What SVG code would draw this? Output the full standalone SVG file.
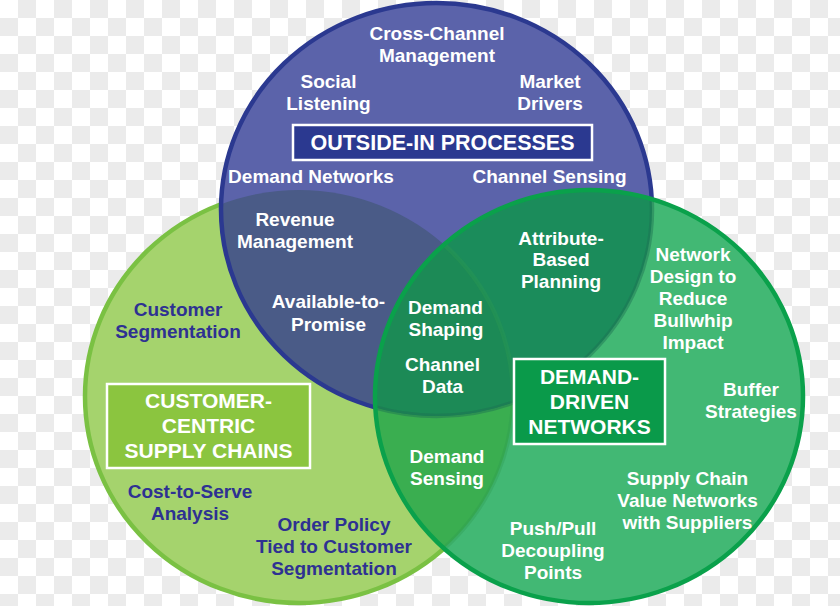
<svg xmlns="http://www.w3.org/2000/svg" width="840" height="606" viewBox="0 0 840 606">
<defs>
<pattern id="chk" width="36" height="36" patternUnits="userSpaceOnUse">
<rect width="36" height="36" fill="#ffffff"/>
<rect x="18" y="0" width="18" height="18" fill="#ebebeb"/>
<rect x="0" y="18" width="18" height="18" fill="#ebebeb"/>
</pattern>
<clipPath id="cL"><ellipse cx="299" cy="396.5" rx="214" ry="206.5"/></clipPath>
<clipPath id="cB"><ellipse cx="436.5" cy="209.5" rx="215.5" ry="206.5"/></clipPath>
<clipPath id="cR"><ellipse cx="589" cy="396.5" rx="214" ry="206.5"/></clipPath>
<style>
.t { font-family: "Liberation Sans", Arial, sans-serif; font-weight: bold; font-size: 19px; text-anchor: middle; fill: #ffffff; }
.nv { fill: #2e3192; }
.ttl { font-size: 21px; }
.box { stroke: #ffffff; stroke-width: 2.5; }
.rim { fill: none; stroke-width: 4.5; }
</style>
</defs>
<rect width="840" height="606" fill="url(#chk)"/>

<g id="circle-customer-centric">
<ellipse cx="299" cy="396.5" rx="214" ry="206.5" fill="#a5d36d" stroke="#7ac143" stroke-width="4.5"/>
</g>

<g id="circle-outside-in">
<ellipse cx="436.5" cy="209.5" rx="215.5" ry="206.5" fill="#5b63aa"/>
<ellipse cx="436.5" cy="209.5" rx="215.5" ry="206.5" fill="#4a5b87" clip-path="url(#cL)"/>
<ellipse class="rim" cx="436.5" cy="209.5" rx="215.5" ry="206.5" stroke="#2b3990"/>
</g>

<g id="circle-demand-driven">
<ellipse cx="589" cy="396.5" rx="214" ry="206.5" fill="#42b874"/>
<ellipse cx="589" cy="396.5" rx="214" ry="206.5" fill="#3aae50" clip-path="url(#cL)"/>
<ellipse cx="589" cy="396.5" rx="214" ry="206.5" fill="#1b8c5b" clip-path="url(#cB)"/>
<g clip-path="url(#cB)">
<ellipse cx="589" cy="396.5" rx="214" ry="206.5" fill="#1c8a56" clip-path="url(#cL)"/>
</g>
<g clip-path="url(#cR)">
<ellipse class="rim" cx="436.5" cy="209.5" rx="215.5" ry="206.5" stroke="#1d6e52" opacity="0.45"/>
<ellipse class="rim" cx="299" cy="396.5" rx="214" ry="206.5" stroke="#2f9a50" opacity="0.35"/>
</g>
<ellipse class="rim" cx="589" cy="396.5" rx="214" ry="206.5" stroke="#0aa14b"/>
</g>

<g id="title-outside-in">
<rect class="box" x="293" y="125" width="299" height="35" fill="#2b3990"/>
<text class="t" x="442.5" y="150" style="font-size:21.5px">OUTSIDE-IN PROCESSES</text>
</g>
<g id="title-customer-centric">
<rect class="box" x="107" y="384" width="203" height="84" fill="#8bc53f"/>
<text class="t ttl" x="208.5" y="408">CUSTOMER-</text>
<text class="t ttl" x="208.5" y="433">CENTRIC</text>
<text class="t ttl" x="208.5" y="458">SUPPLY CHAINS</text>
</g>
<g id="title-demand-driven">
<rect class="box" x="514" y="359" width="151" height="85" fill="#0a9a4a"/>
<text class="t ttl" x="589.5" y="384">DEMAND-</text>
<text class="t ttl" x="589.5" y="409">DRIVEN</text>
<text class="t ttl" x="589.5" y="434">NETWORKS</text>
</g>

<g id="cross-channel"><text class="t" x="437" y="40">Cross-Channel</text><text class="t" x="437" y="62">Management</text></g>
<g id="social-listening"><text class="t" x="328.5" y="88">Social</text><text class="t" x="328.5" y="110">Listening</text></g>
<g id="market-drivers"><text class="t" x="550" y="88">Market</text><text class="t" x="550" y="110">Drivers</text></g>
<g id="demand-networks"><text class="t" x="311" y="183">Demand Networks</text></g>
<g id="channel-sensing"><text class="t" x="549.5" y="183">Channel Sensing</text></g>
<g id="revenue-management"><text class="t" x="295" y="226">Revenue</text><text class="t" x="295" y="248">Management</text></g>
<g id="available-to-promise"><text class="t" x="328.5" y="308">Available-to-</text><text class="t" x="328.5" y="331">Promise</text></g>
<g id="attribute-based"><text class="t" x="561" y="245">Attribute-</text><text class="t" x="561" y="266">Based</text><text class="t" x="561" y="288">Planning</text></g>
<g id="demand-shaping"><text class="t" x="445.5" y="314">Demand</text><text class="t" x="446" y="336">Shaping</text></g>
<g id="channel-data"><text class="t" x="442.5" y="371">Channel</text><text class="t" x="442.5" y="393">Data</text></g>
<g id="network-design"><text class="t" x="693" y="261">Network</text><text class="t" x="693" y="283">Design to</text><text class="t" x="693" y="305">Reduce</text><text class="t" x="693" y="327">Bullwhip</text><text class="t" x="693" y="349">Impact</text></g>
<g id="buffer-strategies"><text class="t" x="751" y="396">Buffer</text><text class="t" x="751" y="418">Strategies</text></g>
<g id="demand-sensing"><text class="t" x="447" y="463">Demand</text><text class="t" x="447" y="485">Sensing</text></g>
<g id="supply-chain-value"><text class="t" x="687.5" y="485">Supply Chain</text><text class="t" x="687.5" y="507">Value Networks</text><text class="t" x="687.5" y="529">with Suppliers</text></g>
<g id="push-pull"><text class="t" x="553" y="535">Push/Pull</text><text class="t" x="553" y="557">Decoupling</text><text class="t" x="553" y="579">Points</text></g>
<g id="customer-segmentation"><text class="t nv" x="178" y="316">Customer</text><text class="t nv" x="178" y="338">Segmentation</text></g>
<g id="cost-to-serve"><text class="t nv" x="190" y="498">Cost-to-Serve</text><text class="t nv" x="190" y="520">Analysis</text></g>
<g id="order-policy"><text class="t nv" x="334" y="531">Order Policy</text><text class="t nv" x="334" y="553">Tied to Customer</text><text class="t nv" x="334" y="575">Segmentation</text></g>
</svg>
